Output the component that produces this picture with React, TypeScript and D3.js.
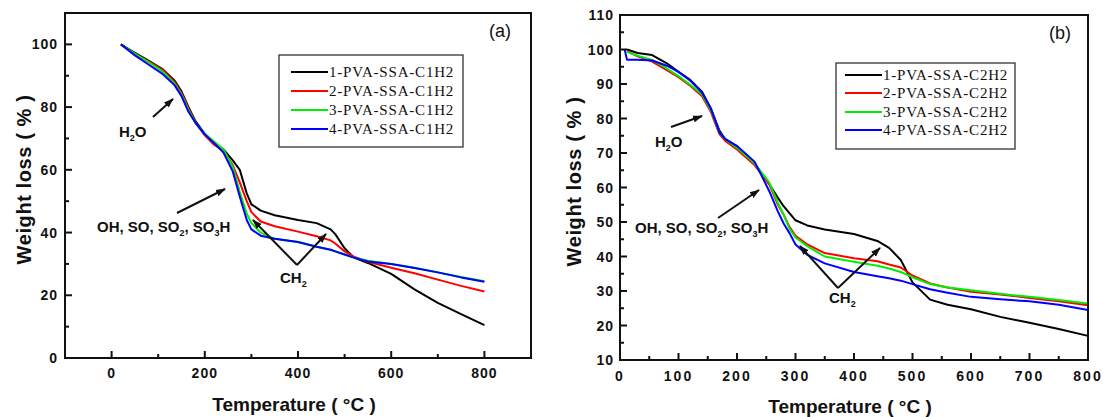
import React from "react";
import * as d3 from "d3";

// ---------- data ----------
const tempA = [20, 50, 80, 110, 135, 150, 165, 180, 200, 220, 240, 260, 275, 290, 300, 320, 350, 400, 440, 470, 480, 500, 520, 550, 600, 650, 700, 750, 800];
const lossA1 = [100, 97.3, 94.7, 92, 88.5, 85, 80, 75.5, 71.5, 68.5, 66.5, 63, 60, 52.5, 49, 47, 45.5, 44, 43, 41, 39.5, 35, 32, 30.3, 26.8, 21.9, 17.6, 14, 10.5];
const lossA2 = [100, 97, 94.5, 91.8, 88, 84.5, 79.5, 75, 71, 68, 66, 61.5, 56, 50, 46.5, 43.5, 42, 40.3, 38.8, 37.5, 36.5, 34, 32.3, 30.7, 28.8, 27, 25, 23, 21.2];
const lossA3 = [100, 97, 94.3, 91.3, 87.5, 84, 79, 75, 71.5, 69, 66.5, 61, 53, 46, 43, 40, 38, 37, 35.5, 34.5, 34, 33, 32, 31, 30, 28.8, 27.3, 25.8, 24.5];
const lossA4 = [100, 96.5, 93.5, 90.5, 87, 83.5, 78.5, 75, 71.3, 68.5, 65.5, 59.5, 51.5, 44, 41, 39, 38, 37, 35.5, 34.5, 34, 33, 32, 30.8, 30, 28.7, 27.3, 25.7, 24.3];

const tempB = [8, 12, 30, 55, 80, 100, 120, 140, 155, 170, 180, 200, 230, 255, 270, 280, 290, 300, 320, 350, 400, 440, 460, 480, 500, 530, 560, 600, 650, 700, 750, 800];
const lossB1 = [NaN, 100, 99, 98.4, 96, 93.5, 91.2, 87.8, 83, 76.5, 74, 72, 67, 61, 57, 54.5, 52.5, 50.5, 49, 47.8, 46.5, 44.5, 42.5, 39, 32.5, 27.5, 26, 24.7, 22.5, 20.8, 19, 17];
const lossB2 = [NaN, 99.5, 98, 96.5, 94, 92, 89.5, 86.5, 82, 75.5, 73.5, 71, 66.5, 61, 55, 52, 48.5, 46, 43.5, 41, 39.5, 38.6, 37.7, 36.8, 34.5, 32.2, 31, 29.8, 29, 28, 27, 25.9];
const lossB3 = [NaN, 99.3, 98.2, 97, 94.5, 92.3, 89.8, 87, 82.5, 76, 74, 71.5, 67, 61.5, 55.5, 52, 48, 45.5, 43, 40, 38.5, 37.3, 36.5, 35.5, 34, 32, 31, 30.2, 29.2, 28.3, 27.4, 26.4];
const lossB4 = [100, 97, 97, 96.8, 95.3, 93.5, 91, 87.5, 83, 76, 74, 72, 67.5, 59, 53, 49.5, 46.7, 43.5, 40.5, 38, 35.5, 34.3, 33.7, 33, 32, 30.5, 29.5, 28.3, 27.6, 27, 26, 24.5];

const seriesColors = ["#000000", "#ff0000", "#00ee00", "#0000ff"];
const labelsA = ["1-PVA-SSA-C1H2", "2-PVA-SSA-C1H2", "3-PVA-SSA-C1H2", "4-PVA-SSA-C1H2"];
const labelsB = ["1-PVA-SSA-C2H2", "2-PVA-SSA-C2H2", "3-PVA-SSA-C2H2", "4-PVA-SSA-C2H2"];

const xMajorA = [0, 200, 400, 600, 800];
const xMinorA = [100, 300, 500, 700];
const yMajorA = [0, 20, 40, 60, 80, 100];
const yMinorA = [10, 30, 50, 70, 90];

const xMajorB = [0, 100, 200, 300, 400, 500, 600, 700, 800];
const xMinorB = [50, 150, 250, 350, 450, 550, 650, 750];
const yMajorB = [10, 20, 30, 40, 50, 60, 70, 80, 90, 100, 110];
const yMinorB = [15, 25, 35, 45, 55, 65, 75, 85, 95, 105];

const FONT = "'Liberation Sans', Arial, Helvetica, sans-serif";
const SERIF = "'Liberation Serif', 'Times New Roman', serif";

type PanelProps = {
  left: number; right: number; top: number; bottom: number;
  xDomain: [number, number]; yDomain: [number, number];
  xMajor: number[]; xMinor: number[]; yMajor: number[]; yMinor: number[];
  temps: number[]; series: number[][]; labels: string[];
  legend: { x0: number; y0: number; x1: number; y1: number; rows: number[]; lx0: number; lx1: number; tx: number };
  tag: string; tagX: number; tagY: number;
  xLabelY: number; yLabelRight: number;
  yTitleX: number; xTitleY: number;
  xTickSpacing: number;
  children?: React.ReactNode;
};

function Panel(p: PanelProps) {
  const x = d3.scaleLinear().domain(p.xDomain).range([p.left, p.right]);
  const y = d3.scaleLinear().domain(p.yDomain).range([p.bottom, p.top]);
  const line = d3
    .line<[number, number]>()
    .defined((d) => !isNaN(d[1]))
    .x((d) => x(d[0]))
    .y((d) => y(d[1]))
    .curve(d3.curveLinear);
  const cx = (p.left + p.right) / 2;
  const cy = (p.top + p.bottom) / 2;
  return (
    <g>
      {p.series.map((vals, i) => (
        <path
          key={i}
          d={line(p.temps.map((t, j) => [t, vals[j]] as [number, number])) || ""}
          fill="none"
          stroke={seriesColors[i]}
          strokeWidth={2}
          strokeLinejoin="round"
        />
      ))}
      <rect x={p.left} y={p.top} width={p.right - p.left} height={p.bottom - p.top} fill="none" stroke="#111" strokeWidth={2} />
      {p.xMajor.map((v) => (
        <g key={"xm" + v}>
          <line x1={x(v)} x2={x(v)} y1={p.bottom} y2={p.bottom - 7} stroke="#111" strokeWidth={2} />
          <text x={x(v)} y={p.xLabelY} textAnchor="middle" fontFamily={FONT} fontWeight="bold" fontSize={14} style={{ letterSpacing: p.xTickSpacing + "px" }} fill="#111">
            {v}
          </text>
        </g>
      ))}
      {p.xMinor.map((v) => (
        <line key={"xn" + v} x1={x(v)} x2={x(v)} y1={p.bottom} y2={p.bottom - 4} stroke="#111" strokeWidth={2} />
      ))}
      {p.yMajor.map((v) => (
        <g key={"ym" + v}>
          <line x1={p.left} x2={p.left + 7} y1={y(v)} y2={y(v)} stroke="#111" strokeWidth={2} />
          <text x={p.yLabelRight} y={y(v) + 5} textAnchor="end" fontFamily={FONT} fontWeight="bold" fontSize={14} style={{ letterSpacing: "1px" }} fill="#111">
            {v}
          </text>
        </g>
      ))}
      {p.yMinor.map((v) => (
        <line key={"yn" + v} x1={p.left} x2={p.left + 4} y1={y(v)} y2={y(v)} stroke="#111" strokeWidth={2} />
      ))}
      <text x={cx - 4} y={p.xTitleY} textAnchor="middle" fontFamily={FONT} fontWeight="bold" fontSize={19} fill="#111">
        Temperature ( °C )
      </text>
      <text
        transform={`translate(${p.yTitleX},${cy - 6}) rotate(-90)`}
        textAnchor="middle"
        fontFamily={FONT}
        fontWeight="bold"
        fontSize={20}
        style={{ letterSpacing: "0.6px" }}
        fill="#111"
      >
        Weight loss ( % )
      </text>
      <text x={p.tagX} y={p.tagY} fontFamily={FONT} fontSize={18} fill="#111">
        {p.tag}
      </text>
      <rect x={p.legend.x0} y={p.legend.y0} width={p.legend.x1 - p.legend.x0} height={p.legend.y1 - p.legend.y0} fill="white" stroke="#333" strokeWidth={1.3} />
      {p.labels.map((lab, i) => (
        <g key={lab}>
          <line x1={p.legend.lx0} x2={p.legend.lx1} y1={p.legend.rows[i]} y2={p.legend.rows[i]} stroke={seriesColors[i]} strokeWidth={2} />
          <text x={p.legend.tx} y={p.legend.rows[i] + 5} fontFamily={SERIF} fontSize={15} style={{ letterSpacing: "0.8px" }} fill="#111">
            {lab}
          </text>
        </g>
      ))}
      {p.children}
    </g>
  );
}

function H2O({ x, y }: { x: number; y: number }) {
  return (
    <text x={x} y={y} fontFamily={FONT} fontWeight="bold" fontSize={15} fill="#111">
      H<tspan fontSize={9} dy={4}>2</tspan>
      <tspan dy={-4}>O</tspan>
    </text>
  );
}

function OHText({ x, y }: { x: number; y: number }) {
  return (
    <text x={x} y={y} fontFamily={FONT} fontWeight="bold" fontSize={15} fill="#111">
      OH, SO, SO<tspan fontSize={9} dy={4}>2</tspan>
      <tspan dy={-4}>, SO</tspan>
      <tspan fontSize={9} dy={4}>3</tspan>
      <tspan dy={-4}>H</tspan>
    </text>
  );
}

function CH2({ x, y }: { x: number; y: number }) {
  return (
    <text x={x} y={y} fontFamily={FONT} fontWeight="bold" fontSize={15} fill="#111">
      CH<tspan fontSize={9} dy={4}>2</tspan>
    </text>
  );
}

function Arrow({ x1, y1, x2, y2 }: { x1: number; y1: number; x2: number; y2: number }) {
  return <line x1={x1} y1={y1} x2={x2} y2={y2} stroke="#111" strokeWidth={2} markerEnd="url(#arrowHead)" />;
}

export default function App() {
  return (
    <div style={{ position: "absolute", left: 0, top: 0 }}>
      <svg width={1103} height={417} style={{ display: "block", background: "white" }}>
        <defs>
          <marker id="arrowHead" viewBox="0 0 10 10" refX={9} refY={5} markerWidth={10} markerHeight={10} markerUnits="userSpaceOnUse" orient="auto">
            <path d="M0,1.5 L10,5 L0,8.5 z" fill="#111" />
          </marker>
        </defs>
        <Panel
          left={65}
          right={531}
          top={13}
          bottom={358}
          xDomain={[-100, 900]}
          yDomain={[0, 110]}
          xMajor={xMajorA}
          xMinor={xMinorA}
          yMajor={yMajorA}
          yMinor={yMinorA}
          temps={tempA}
          series={[lossA1, lossA2, lossA3, lossA4]}
          labels={labelsA}
          legend={{ x0: 279, y0: 55, x1: 463, y1: 147, rows: [72, 91, 110, 129], lx0: 291, lx1: 328, tx: 329 }}
          tag="(a)"
          tagX={489}
          tagY={37}
          xLabelY={378}
          yLabelRight={58}
          yTitleX={31}
          xTitleY={411}
          xTickSpacing={1}
        >
          <H2O x={119} y={137} />
          <Arrow x1={153} y1={117} x2={173} y2={99} />
          <OHText x={97} y={232} />
          <Arrow x1={177} y1={213} x2={225} y2={189} />
          <CH2 x={280} y={283} />
          <Arrow x1={297} y1={265} x2={253} y2={220} />
          <Arrow x1={297} y1={265} x2={326} y2={234} />
        </Panel>
        <Panel
          left={620}
          right={1088}
          top={15}
          bottom={360}
          xDomain={[0, 800]}
          yDomain={[10, 110]}
          xMajor={xMajorB}
          xMinor={xMinorB}
          yMajor={yMajorB}
          yMinor={yMinorB}
          temps={tempB}
          series={[lossB1, lossB2, lossB3, lossB4]}
          labels={labelsB}
          legend={{ x0: 836, y0: 63, x1: 1015, y1: 149, rows: [75, 93, 112, 130], lx0: 845, lx1: 882, tx: 883 }}
          tag="(b)"
          tagX={1049}
          tagY={39}
          xLabelY={381}
          yLabelRight={614}
          yTitleX={581}
          xTitleY={413}
          xTickSpacing={2}
        >
          <H2O x={655} y={147} />
          <Arrow x1={671} y1={127} x2={702} y2={116} />
          <OHText x={635} y={233} />
          <Arrow x1={718} y1={218} x2={759} y2={190} />
          <CH2 x={829} y={303} />
          <Arrow x1={838} y1={288} x2={800} y2={246} />
          <Arrow x1={838} y1={288} x2={880} y2={248} />
        </Panel>
      </svg>
    </div>
  );
}
